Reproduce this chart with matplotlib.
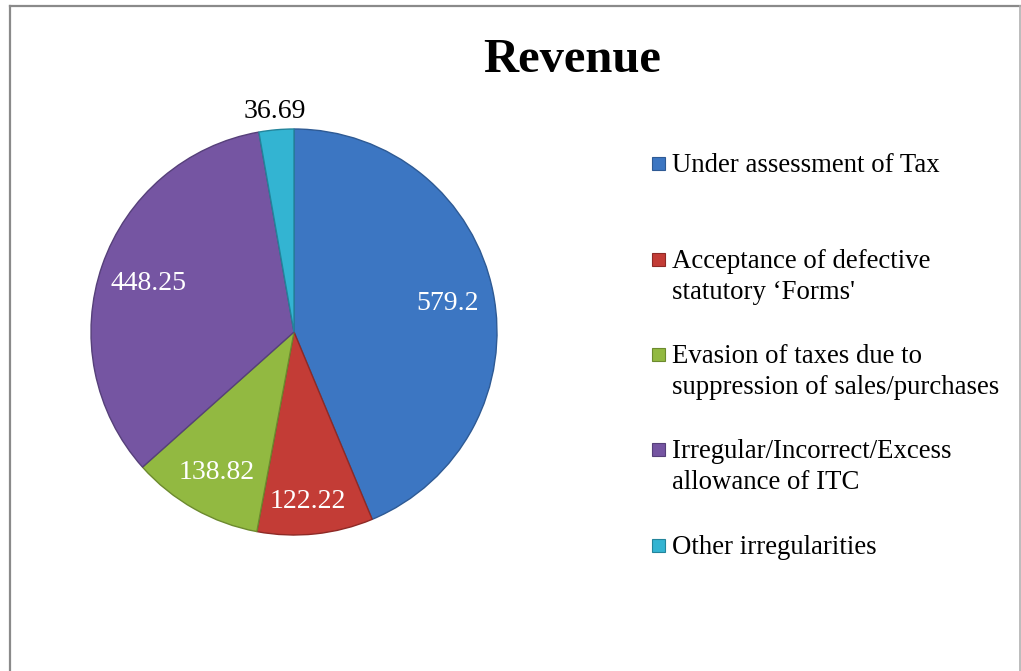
import matplotlib
matplotlib.use('Agg')
import matplotlib.pyplot as plt
import numpy as np
from matplotlib.patches import Rectangle
from matplotlib.lines import Line2D

plt.rcParams['font.family'] = ['Liberation Serif', 'DejaVu Serif']

categories = ["Under assessment of Tax",
              "Acceptance of defective\nstatutory \u2018Forms'",
              "Evasion of taxes due to\nsuppression of sales/purchases",
              "Irregular/Incorrect/Excess\nallowance of ITC",
              "Other irregularities"]
values = [579.2, 122.22, 138.82, 448.25, 36.69]
value_labels = ["579.2", "122.22", "138.82", "448.25", "36.69"]
colors = ['#3C76C2', '#C33C36', '#92B941', '#7555A2', '#33B4D2']
edges = ['#2E5A94', '#8E2A26', '#6C8A2E', '#56407A', '#23849B']

W, H = 1021, 671
fig = plt.figure(figsize=(W / 100, H / 100), dpi=100)

# outer frame (left, top, right; bottom cropped off)
fr = dict(color='#8a8a8a', lw=1.6, transform=fig.transFigure)
fig.add_artist(Line2D([9.5 / W, 9.5 / W], [0, 1 - 5.5 / H], **fr))
fig.add_artist(Line2D([9.5 / W, 1020 / W], [1 - 5.5 / H, 1 - 5.5 / H], **fr))
fig.add_artist(Line2D([1020 / W, 1020 / W], [0, 1 - 5.5 / H], color='#b0b0b0', lw=1.2,
                      transform=fig.transFigure))

# pie axes: center (294,332), radius ~203 px
cx, cy, r = 294, 332, 203
ax = fig.add_axes([(cx - r) / W, 1 - (cy + r) / H, 2 * r / W, 2 * r / H])
wedges, _ = ax.pie(values, colors=colors, startangle=90, counterclock=False, radius=1,
                   wedgeprops=dict(linewidth=1.0))
for w, ec in zip(wedges, edges):
    w.set_edgecolor(ec)
ax.set_xlim(-1, 1)
ax.set_ylim(-1, 1)
ax.set_aspect('equal')
ax.axis('off')

label_dist = [0.77, 0.83, 0.78, 0.76, 1.1]
for w, lab, d in zip(wedges, value_labels, label_dist):
    th = np.deg2rad((w.theta1 + w.theta2) / 2)
    c = 'black' if d > 1 else 'white'
    ax.text(d * np.cos(th) - (0.02 if lab == "122.22" else 0), d * np.sin(th) - 0.012, lab,
            ha='center', va='center', fontsize=20, color=c, clip_on=False)

fig.text(572 / W, 1 - 60 / H, "Revenue", ha='center', va='center',
         fontsize=35, fontweight='bold')

# legend
entry_y = [163, 259, 354, 449, 545]
line_gap = 31
for lab, col, ec, y in zip(categories, colors, edges, entry_y):
    fig.add_artist(Rectangle((652 / W, 1 - (y + 7) / H), 13 / W, 13 / H,
                             facecolor=col, edgecolor=ec, lw=0.8,
                             transform=fig.transFigure))
    for k, line in enumerate(lab.split("\n")):
        fig.text(672 / W, 1 - (y + 9 + k * line_gap) / H, line, ha='left', va='baseline',
                 fontsize=19.3)

fig.savefig('out.png', dpi=100, facecolor='white')
